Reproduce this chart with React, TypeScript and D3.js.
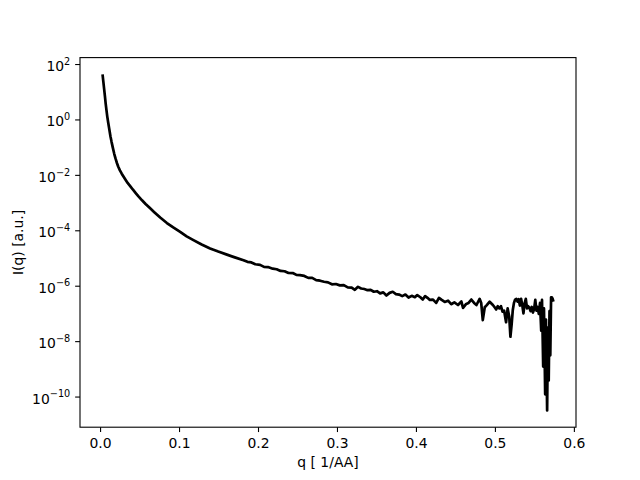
import React from "react";
import * as d3 from "d3";

const qValues: number[] = [
  0.0025, 0.0035, 0.0045, 0.0055, 0.0065, 0.0075, 0.0085, 0.0097, 0.011, 0.0125,
  0.0139, 0.0155, 0.0173, 0.019, 0.0207, 0.0224, 0.0245, 0.0268, 0.0292, 0.0318,
  0.0345, 0.0375, 0.0408, 0.0445, 0.048, 0.0525, 0.057, 0.0625, 0.068, 0.0755,
  0.084, 0.092, 0.1008, 0.109, 0.1176, 0.128, 0.1387, 0.149, 0.16, 0.17,
  0.181, 0.186, 0.191, 0.196, 0.202, 0.207, 0.212, 0.218, 0.223, 0.228,
  0.233, 0.238, 0.244, 0.248, 0.2525, 0.258, 0.263, 0.268, 0.273, 0.278,
  0.283, 0.288, 0.293, 0.298, 0.303, 0.308, 0.313, 0.318, 0.322, 0.326,
  0.33, 0.334, 0.338, 0.342, 0.346, 0.35, 0.354, 0.358, 0.362, 0.366,
  0.37, 0.374, 0.378, 0.382, 0.386, 0.39, 0.394, 0.398, 0.401, 0.405,
  0.408, 0.411, 0.414, 0.417, 0.421, 0.425, 0.4285, 0.432, 0.4358, 0.44,
  0.444, 0.448, 0.4526, 0.4569, 0.459, 0.463, 0.466, 0.4695, 0.473, 0.476,
  0.48, 0.482, 0.484, 0.4865, 0.4885, 0.4927, 0.4968, 0.499, 0.501, 0.503,
  0.505, 0.507, 0.509, 0.511, 0.5135, 0.5155, 0.5175, 0.519, 0.5205, 0.522,
  0.5235, 0.525, 0.5265, 0.528, 0.5295, 0.531, 0.5325, 0.534, 0.5355, 0.537,
  0.5385, 0.54, 0.5415, 0.543, 0.5445, 0.546, 0.5475, 0.549, 0.5505, 0.552,
  0.5535, 0.555, 0.5565, 0.558, 0.559, 0.5605, 0.5615, 0.563, 0.564, 0.5655,
  0.5665, 0.5675, 0.5685, 0.5695, 0.5705, 0.5715, 0.5725, 0.5735,
];

const intensity: number[] = [
  4.4e1, 2.4e1, 1.32e1, 7.2e0, 3.8e0, 2.2e0, 1.32e0, 7.9e-1, 4.7e-1, 2.6e-1,
  1.62e-1, 1.0e-1, 6.0e-2, 4.0e-2, 2.8e-2, 2.04e-2, 1.51e-2, 1.15e-2, 8.9e-3, 6.8e-3,
  5.2e-3, 4.1e-3, 3.1e-3, 2.3e-3, 1.74e-3, 1.26e-3, 9.3e-4, 6.6e-4, 4.7e-4, 3.0e-4,
  1.9e-4, 1.32e-4, 9.1e-5, 6.3e-5, 4.6e-5, 3.2e-5, 2.3e-5, 1.78e-5, 1.38e-5, 1.1e-5,
  8.7e-6, 7.6e-6, 7.2e-6, 6.2e-6, 5.9e-6, 5.0e-6, 4.9e-6, 4.3e-6, 4.1e-6, 3.55e-6,
  3.47e-6, 3.0e-6, 2.95e-6, 2.57e-6, 2.5e-6, 2.35e-6, 2.0e-6, 2.0e-6, 1.66e-6, 1.58e-6,
  1.45e-6, 1.38e-6, 1.17e-6, 1.2e-6, 1.07e-6, 1.1e-6, 9.1e-7, 8.9e-7, 7.4e-7, 9.5e-7,
  8.3e-7, 7.9e-7, 7.2e-7, 7.4e-7, 6.3e-7, 6.6e-7, 5.5e-7, 6.0e-7, 4.6e-7, 5.75e-7,
  6.3e-7, 5.2e-7, 5.0e-7, 4.4e-7, 5.0e-7, 3.9e-7, 4.5e-7, 4.0e-7, 4.8e-7, 4.0e-7,
  3.3e-7, 4.4e-7, 3.8e-7, 3.2e-7, 3.3e-7, 2.5e-7, 3.8e-7, 3.2e-7, 2.7e-7, 3.0e-7,
  2.24e-7, 2.6e-7, 2.1e-7, 2.8e-7, 1.66e-7, 2.3e-7, 2.5e-7, 3.3e-7, 2.5e-7, 2.1e-7,
  3.5e-7, 2.5e-7, 6.0e-8, 1.74e-7, 2.0e-7, 2.75e-7, 2.1e-7, 1.74e-7, 1.45e-7, 1.9e-7,
  1.58e-7, 1.9e-7, 1.2e-7, 1.32e-7, 5.0e-8, 1.58e-7, 7.9e-8, 1.5e-8, 4.0e-8, 1.38e-7,
  2.5e-7, 3.3e-7, 3.5e-7, 2.8e-7, 3.4e-7, 2.0e-7, 3.5e-7, 2.1e-7, 1.05e-7, 2.4e-7,
  3.5e-7, 1.58e-7, 1.9e-7, 1.66e-7, 1.26e-7, 1.78e-7, 1.12e-7, 1.5e-7, 3.2e-7, 1.32e-7,
  1.78e-7, 1.0e-7, 2.5e-7, 2.5e-8, 3.2e-7, 1.26e-9, 1.58e-7, 1.26e-10, 6.3e-8, 3.3e-11,
  3.2e-8, 4.0e-10, 1.26e-7, 3.2e-9, 4.0e-7, 4.0e-7, 3.5e-7, 2.8e-7,
];

const xTickValues: number[] = [0.0, 0.1, 0.2, 0.3, 0.4, 0.5, 0.6];
const xTickLabels: string[] = ["0.0", "0.1", "0.2", "0.3", "0.4", "0.5", "0.6"];
const yTickExponents: number[] = [-10, -8, -6, -4, -2, 0, 2];

const xLabel = "q [ 1/AA]";
const yLabel = "I(q) [a.u.]";

export default function App() {
  const W = 640;
  const H = 480;
  const left = 80;
  const right = 576;
  const top = 57.6;
  const bottom = 427.2;

  const [qMin, qMax] = d3.extent(qValues) as [number, number];
  const qPad = (qMax - qMin) * 0.05;
  const x = d3.scaleLinear().domain([qMin - qPad, qMax + qPad]).range([left, right]);

  const [iMin, iMax] = d3.extent(intensity) as [number, number];
  const lMin = Math.log10(iMin);
  const lMax = Math.log10(iMax);
  const lPad = (lMax - lMin) * 0.05;
  const y = d3
    .scaleLog()
    .domain([Math.pow(10, lMin - lPad), Math.pow(10, lMax + lPad)])
    .range([bottom, top]);

  const points: [number, number][] = qValues.map((q, i) => [q, intensity[i]]);
  const line = d3
    .line<[number, number]>()
    .x((d) => x(d[0]))
    .y((d) => y(d[1]));

  const tickLen = 4.86;
  const font = "DejaVu Sans, sans-serif";
  const fs = 13.9;

  return (
    <svg
      width={W}
      height={H}
      style={{ position: "absolute", left: 0, top: 0, background: "#fff" }}
      fontFamily={font}
    >
      <rect x={0} y={0} width={W} height={H} fill="#fff" />
      <defs>
        <clipPath id="plotclip">
          <rect x={left} y={top} width={right - left} height={bottom - top} />
        </clipPath>
      </defs>
      <path
        d={line(points) || ""}
        fill="none"
        stroke="#000"
        strokeWidth={2.7}
        strokeLinejoin="round"
        strokeLinecap="butt"
        clipPath="url(#plotclip)"
      />
      <rect
        x={left}
        y={top}
        width={right - left}
        height={bottom - top}
        fill="none"
        stroke="#000"
        strokeWidth={1.1}
      />
      {xTickValues.map((v, i) => (
        <g key={"xt" + i}>
          <line x1={x(v)} x2={x(v)} y1={bottom} y2={bottom + tickLen} stroke="#000" strokeWidth={1.1} />
          <text x={x(v)} y={bottom + tickLen + 4.9 + 10.6} textAnchor="middle" fontSize={fs} fill="#000">
            {xTickLabels[i]}
          </text>
        </g>
      ))}
      {yTickExponents.map((e, i) => {
        const yy = y(Math.pow(10, e));
        const exp = e < 0 ? "\u2212" + Math.abs(e) : String(e);
        return (
          <g key={"yt" + i}>
            <line x1={left - tickLen} x2={left} y1={yy} y2={yy} stroke="#000" strokeWidth={1.1} />
            <text x={left - tickLen - 4.9} y={yy + 6.5} textAnchor="end" fontSize={fs} fill="#000">
              10
              <tspan dy={-6.3} fontSize={9.7}>
                {exp}
              </tspan>
            </text>
          </g>
        );
      })}
      <text x={(left + right) / 2} y={467} textAnchor="middle" fontSize={fs} fill="#000">
        {xLabel}
      </text>
      <text
        transform={`translate(22.5, ${(top + bottom) / 2}) rotate(-90)`}
        textAnchor="middle"
        fontSize={fs}
        fill="#000"
      >
        {yLabel}
      </text>
    </svg>
  );
}
